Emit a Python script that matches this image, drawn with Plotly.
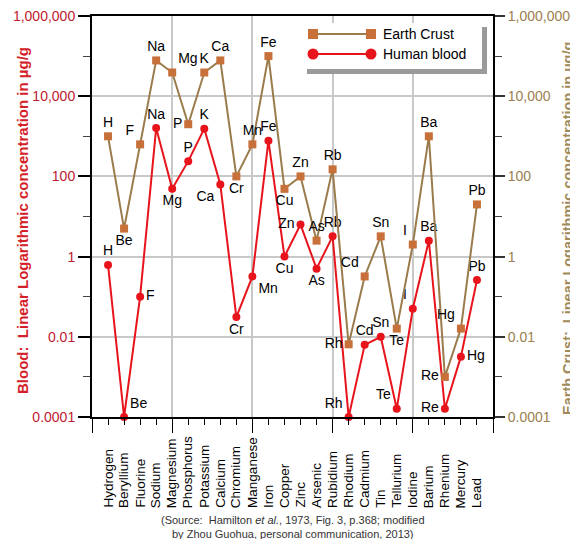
import plotly.graph_objects as go

# ---------------- data ----------------
elements = ["Hydrogen", "Beryllium", "Fluorine", "Sodium", "Magnesium", "Phosphorus",
            "Potassium", "Calcium", "Chromium", "Manganese", "Iron", "Copper", "Zinc",
            "Arsenic", "Rubidium", "Rhodium", "Cadmium", "Tin", "Tellurium", "Iodine",
            "Barium", "Rhenium", "Mercury", "Lead"]
symbols = ["H", "Be", "F", "Na", "Mg", "P", "K", "Ca", "Cr", "Mn", "Fe", "Cu", "Zn",
           "As", "Rb", "Rh", "Cd", "Sn", "Te", "I", "Ba", "Re", "Hg", "Pb"]
earth_crust = [1000, 5, 630, 78000, 39000, 2000, 39000, 78000, 100, 630, 100000, 49, 100,
               2.5, 150, 0.0065, 0.32, 3.2, 0.016, 2, 1000, 0.001, 0.016, 20]
human_blood = [0.62, 0.0001, 0.1, 1600, 49, 240, 1550, 63, 0.031, 0.32, 780, 1.0, 6.3,
               0.5, 3.2, 0.0001, 0.0063, 0.01, 0.00016, 0.05, 2.5, 0.00016, 0.0032, 0.26]
y_tickvals = [1e-4, 1e-2, 1, 1e2, 1e4, 1e6]
y_ticktext = ["0.0001", "0.01", "1", "100", "10,000", "1,000,000"]
y_minorvals = [1e-3, 1e-1, 1e1, 1e3, 1e5]

# label placement (style)
crust_pos = ["top center", "bottom center", "top left", "top center", "top right", "middle left",
             "top center", "top center", "bottom center", "top center", "top center", "bottom center",
             "top center", "top center", "top center", "middle left", "top left", "top center",
             "bottom center", "top left", "top center", "middle left", "top left", "top center"]
blood_pos = ["top center", "top right", "middle right", "top center", "bottom center", "top center",
             "top center", "bottom left", "bottom center", "bottom right", "top center", "bottom center",
             "middle left", "bottom center", "top center", "top left", "top center", "top center",
             "top left", "top left", "top center", "middle left", "middle right", "top center"]

# page body has an 8px margin, so the figure is drawn 8px smaller and offset
OFF = 8
W, H = 578 - OFF, 539 - OFF
PL, PT, PR, PB = 92, 16, 493, 417          # plot area in window pixels
L, T = PL - OFF, PT - OFF
PW, PH = PR - PL, PB - PT
R, B = W - L - PW, H - T - PH


def px(x):
    return (x - PL) / PW


def py(y):
    return (PB - y) / PH


CRUST_LINE = "#9a7b4c"
CRUST_MK = "#c8703a"
RED = "#e8141c"
FONT = "Liberation Sans, Arial, sans-serif"

xs = list(range(len(elements)))

fig = go.Figure()
fig.add_trace(go.Scatter(
    x=xs, y=earth_crust, mode="lines+markers+text", name="Earth Crust",
    text=symbols, textposition=crust_pos, textfont=dict(size=14, color="black", family=FONT),
    line=dict(color=CRUST_LINE, width=2),
    marker=dict(symbol="square", size=8, color=CRUST_MK),
    cliponaxis=False, yaxis="y2", showlegend=False))
fig.add_trace(go.Scatter(
    x=xs, y=human_blood, mode="lines+markers+text", name="Human blood",
    text=symbols, textposition=blood_pos, textfont=dict(size=14, color="black", family=FONT),
    line=dict(color=RED, width=2),
    marker=dict(symbol="circle", size=8, color=RED),
    cliponaxis=False, showlegend=False))

grid = "#c8c8c8"
fig.update_layout(
    width=W, height=H, margin=dict(l=L, r=R, t=T, b=B, autoexpand=False),
    paper_bgcolor="white", plot_bgcolor="white",
    font=dict(family=FONT, size=14, color="black"),
    xaxis=dict(range=[-1, len(elements)], tickmode="array", tickvals=xs, showticklabels=False,
               ticks="outside", ticklen=6, tickwidth=1, tickcolor="black",
               showline=True, linecolor="black", linewidth=2, mirror=True,
               showgrid=False, zeroline=False, automargin=False,
               minor=dict(tickmode="array", tickvals=[-1, 4, 9, 14, 19, 24], ticks="outside",
                          ticklen=14, tickwidth=1, tickcolor="black",
                          showgrid=True, gridcolor=grid, gridwidth=1.5)),
    yaxis=dict(type="log", range=[-4, 6], tickmode="array", tickvals=y_tickvals, ticktext=y_ticktext,
               tickfont=dict(color="#c0202e", size=14), ticks="outside", ticklen=12, tickwidth=1.5,
               tickcolor="black", showline=True, linecolor="black", linewidth=2,
               ticklabeloverflow="allow",
               showgrid=True, gridcolor=grid, gridwidth=1.5, zeroline=False, automargin=False,
               minor=dict(tickmode="array", tickvals=y_minorvals, ticks="outside", ticklen=7,
                          tickwidth=1, tickcolor="#444", showgrid=False)),
    yaxis2=dict(type="log", range=[-4, 6], overlaying="y", side="right", tickmode="array",
                tickvals=y_tickvals, ticktext=y_ticktext,
                tickfont=dict(color="#9b8050", size=14), ticks="outside", ticklen=10, tickwidth=1.5,
                tickcolor="#333", showline=True, linecolor="black", linewidth=2,
                ticklabeloverflow="allow",
                showgrid=False, zeroline=False, automargin=False,
                minor=dict(tickmode="array", tickvals=y_minorvals, ticks="outside", ticklen=7,
                           tickwidth=1, tickcolor="#444", showgrid=False)),
)

annotations = []
# rotated category labels (bottom-aligned)
for i, name in enumerate(elements):
    annotations.append(dict(x=i, xref="x", y=py(510), yref="paper", text=name, showarrow=False,
                            textangle=-90, xanchor="center", yanchor="bottom",
                            font=dict(size=13.5, color="black")))
# axis titles
annotations.append(dict(x=px(22), y=py(221), xref="paper", yref="paper", textangle=-90,
                        text="<b>Blood:  Linear Logarithmic concentration in µg/g</b>",
                        showarrow=False, xanchor="center", yanchor="middle",
                        font=dict(size=15, color="#d42027")))
annotations.append(dict(x=px(568), y=py(229), xref="paper", yref="paper", textangle=-90,
                        text="<b>Earth Crust:  Linear Logarithmic concentration in µg/g</b>",
                        showarrow=False, xanchor="center", yanchor="middle",
                        font=dict(size=14.5, color="#a08a5c")))
# source note
annotations.append(dict(x=px(293), y=py(527), xref="paper", yref="paper", showarrow=False,
                        text="(Source:  Hamilton <i>et al.</i>, 1973, Fig. 3, p.368; modified<br>"
                             "by Zhou Guohua, personal communication, 2013)",
                        xanchor="center", yanchor="middle", align="center",
                        font=dict(size=11, color="#333333")))
# legend text
annotations.append(dict(x=px(381), y=py(34), xref="paper", yref="paper", text="Earth Crust",
                        showarrow=False, xanchor="left", yanchor="middle",
                        font=dict(size=14, color="black")))
annotations.append(dict(x=px(381), y=py(54), xref="paper", yref="paper", text="Human blood",
                        showarrow=False, xanchor="left", yanchor="middle",
                        font=dict(size=14, color="black")))
fig.update_layout(annotations=annotations)

shapes = [
    # legend shadow and box
    dict(type="rect", xref="paper", yref="paper", x0=px(307), x1=px(487), y0=py(74), y1=py(27),
         fillcolor="#9a9a9a", line=dict(width=0), layer="above"),
    dict(type="rect", xref="paper", yref="paper", x0=px(303), x1=px(482), y0=py(69), y1=py(23),
         fillcolor="white", line=dict(width=0), layer="above"),
    # legend lines
    dict(type="line", xref="paper", yref="paper", x0=px(313), x1=px(371), y0=py(34), y1=py(34),
         line=dict(color=CRUST_LINE, width=2), layer="above"),
    dict(type="line", xref="paper", yref="paper", x0=px(313), x1=px(371), y0=py(54), y1=py(54),
         line=dict(color=RED, width=2), layer="above"),
]
for cx in (313, 371):
    shapes.append(dict(type="rect", xref="paper", yref="paper", x0=px(cx - 5), x1=px(cx + 5),
                       y0=py(39), y1=py(29), fillcolor=CRUST_MK, line=dict(width=0), layer="above"))
    shapes.append(dict(type="circle", xref="paper", yref="paper", x0=px(cx - 5.5), x1=px(cx + 5.5),
                       y0=py(59.5), y1=py(48.5), fillcolor=RED, line=dict(width=0), layer="above"))
fig.update_layout(shapes=shapes)

fig.write_html("out.html")
